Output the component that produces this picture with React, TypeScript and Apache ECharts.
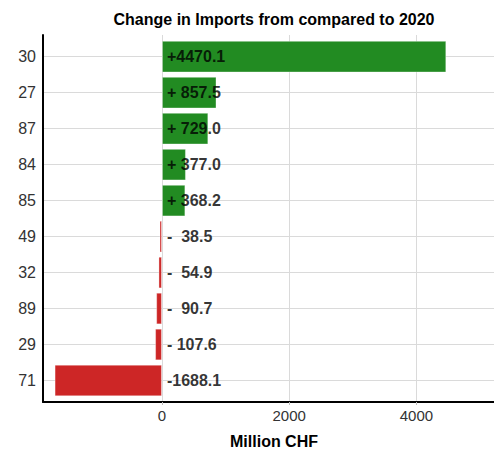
import React, { useEffect, useRef } from "react";
import * as echarts from "echarts";

const categories = ["30", "27", "87", "84", "85", "49", "32", "89", "29", "71"];
const changes = [4470.1, 857.5, 729.0, 377.0, 368.2, -38.5, -54.9, -90.7, -107.6, -1688.1];
const xTicks = [0, 2000, 4000];
const titleText = "Change in Imports from compared to 2020";
const xName = "Million CHF";

const FONT = "'Liberation Sans', Arial, Helvetica, sans-serif";
const GREEN = "#228B22";
const RED = "#CD2626";
const GRID = "#DADADA";
const X_MIN = -1870;
const X_MAX = 5220;

function fmt(v: number): string {
  const sign = v >= 0 ? "+" : "-";
  return sign + Math.abs(v).toFixed(1).padStart(6, "\u00a0");
}

export default function App() {
  const ref = useRef<HTMLDivElement>(null);
  useEffect(() => {
    document.body.style.margin = "0";
    const chart = echarts.init(ref.current!, null, { renderer: "svg" });
    chart.setOption({
      animation: false,
      backgroundColor: "#ffffff",
      grid: [
        { left: 43, right: 0, top: 35, height: 367, containLabel: false },
        { left: 43, right: 0, top: 56.7, height: 323.8, containLabel: false },
      ],
      xAxis: [
        {
          type: "value",
          gridIndex: 0,
          min: X_MIN,
          max: X_MAX,
          axisLine: { show: true, onZero: false, lineStyle: { color: "#000", width: 2 } },
          axisTick: { show: true, length: 3, customValues: xTicks, lineStyle: { color: "#BDBDBD" } },
          axisLabel: {
            customValues: xTicks,
            formatter: (v: number) => String(v),
            color: "#333",
            fontSize: 15,
            fontFamily: FONT,
            margin: 6,
          },
          splitLine: { show: true, lineStyle: { color: GRID, width: 1 } },
        },
        {
          type: "value",
          gridIndex: 1,
          min: X_MIN,
          max: X_MAX,
          show: false,
          splitLine: { show: false },
        },
      ],
      yAxis: [
        {
          type: "value",
          gridIndex: 0,
          min: 0,
          max: 1,
          axisLine: { show: true, onZero: false, lineStyle: { color: "#000", width: 2 } },
          axisTick: { show: false },
          axisLabel: { show: false },
          splitLine: { show: false },
        },
        {
          type: "category",
          gridIndex: 1,
          data: categories,
          inverse: true,
          boundaryGap: false,
          axisLine: { show: false },
          axisTick: { show: false },
          axisLabel: {
            color: "#333",
            fontSize: 16,
            fontFamily: FONT,
            margin: 7,
          },
          splitLine: { show: true, lineStyle: { color: GRID, width: 1 } },
        },
      ],
      series: [
        {
          type: "bar",
          xAxisIndex: 1,
          yAxisIndex: 1,
          clip: false,
          barWidth: "88%",
          data: changes.map((v) => ({
            value: v,
            itemStyle: {
              color: v >= 0 ? GREEN : RED,
              borderColor: "rgba(255,255,255,0.35)",
              borderWidth: 1,
            },
          })),
          z: 2,
        },
        {
          type: "scatter",
          xAxisIndex: 1,
          yAxisIndex: 1,
          symbolSize: 0,
          clip: false,
          data: changes.map((v, i) => [0, categories[i], v]),
          label: {
            show: true,
            position: "right",
            distance: 5,
            color: "#000",
            fontWeight: "bold",
            fontSize: 16,
            fontFamily: FONT,
            formatter: (p: any) => fmt(p.data[2]),
          },
          z: 5,
        },
      ],
      graphic: [
        {
          type: "text",
          x: 274,
          y: 19,
          style: {
            text: titleText,
            textAlign: "center",
            textVerticalAlign: "middle",
            fontSize: 16,
            fontWeight: "bold",
            fontFamily: FONT,
            fill: "#000",
          },
        },
        {
          type: "text",
          x: 274,
          y: 441,
          style: {
            text: xName,
            textAlign: "center",
            textVerticalAlign: "middle",
            fontSize: 16,
            fontWeight: "bold",
            fontFamily: FONT,
            fill: "#000",
          },
        },
      ],
    });
    return () => chart.dispose();
  }, []);
  return (
    <div
      ref={ref}
      style={{ width: 494, height: 453, position: "absolute", left: 0, top: 0 }}
    />
  );
}
